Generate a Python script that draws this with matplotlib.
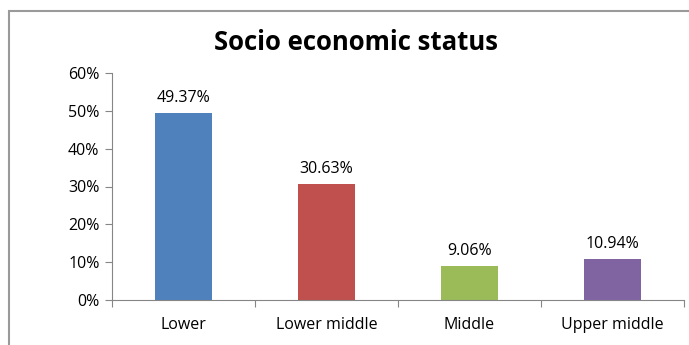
import matplotlib
matplotlib.use("Agg")
import matplotlib.pyplot as plt
from matplotlib.patches import Rectangle
from matplotlib.ticker import FuncFormatter
import numpy as np

categories = ["Lower", "Lower middle", "Middle", "Upper middle"]
values = [49.37, 30.63, 9.06, 10.94]
colors = ["#4F81BD", "#C0504D", "#9BBB59", "#8064A2"]
yticks = [0, 10, 20, 30, 40, 50, 60]

plt.rcParams["font.family"] = ["Open Sans", "DejaVu Sans"]

fig = plt.figure(figsize=(6.89, 3.45), dpi=100)
ax = fig.add_axes([112 / 689, 1 - 300 / 345, (684 - 112) / 689, (300 - 73) / 345])

# chart frame, running off the right and bottom edges like the source screenshot
fig.patches.append(Rectangle((9 / 689, -0.2), 1.2, 1.2 - 11 / 345,
                             transform=fig.transFigure, fill=False,
                             edgecolor="#9a9a9a", linewidth=1.5))

x = np.arange(len(categories))
ax.bar(x, values, width=0.4, color=colors)
for xi, v in zip(x, values):
    ax.text(xi, v + 1.8, f"{v:.2f}%", ha="center", va="bottom", fontsize=11.5)

ax.set_xlim(-0.5, len(categories) - 0.5)
ax.set_ylim(0, 60)
ax.set_yticks(yticks)
ax.yaxis.set_major_formatter(FuncFormatter(lambda v, _: f"{v:.0f}%"))

ax.set_xticks(np.arange(-0.5, len(categories), 1.0))
ax.set_xticklabels([])
ax.set_xticks(x, minor=True)
ax.set_xticklabels(categories, minor=True)
ax.tick_params(axis="x", which="minor", length=0, pad=12, labelsize=11.5)
ax.tick_params(axis="x", which="major", length=5, color="#868686")
ax.tick_params(axis="y", length=5, color="#868686", labelsize=11.5, pad=4)

for side in ("top", "right"):
    ax.spines[side].set_visible(False)
for side in ("left", "bottom"):
    ax.spines[side].set_color("#868686")

fig.text(356 / 689, 1 - 42 / 345, "Socio economic status", ha="center",
         va="center", fontsize=18.5, fontweight="bold")

fig.savefig("out.png", dpi=100)
